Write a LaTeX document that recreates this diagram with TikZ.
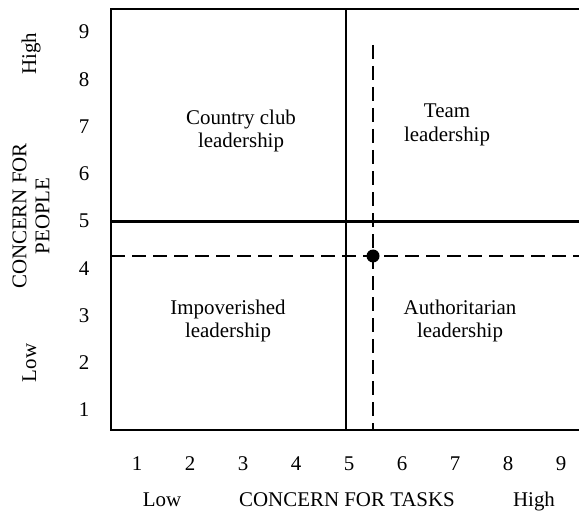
\documentclass[tikz,border=0pt]{standalone}
\usepackage{fontspec}
\setmainfont{Liberation Serif}

\begin{document}
\begin{tikzpicture}[x=0.5bp,y=-0.5bp,font=\fontsize{10.5}{12}\selectfont]
  \tikzstyle{frameline}=[line width=1.45bp,black,line join=miter]
  \tikzstyle{dashline}=[line width=1.15bp,black,dash pattern=on 7bp off 3.5bp]
  \tikzstyle{num}=[inner sep=0pt]
  \tikzstyle{lbl}=[align=center,inner sep=0pt]
  \tikzstyle{axlbl}=[anchor=base,inner sep=0pt]

  \useasboundingbox (0,0) rectangle (579,512);

  % corners of the grid
  \coordinate (tl) at (111,9);
  \coordinate (tr) at (579,9);
  \coordinate (bl) at (111,430);
  \coordinate (br) at (579,430);

  % the middle lines
  \coordinate (ml) at (111,221.5);
  \coordinate (mr) at (579,221.5);
  \coordinate (mt) at (346,9);
  \coordinate (mb) at (346,430);

  % the dashed lines
  \coordinate (dl) at (111,256);
  \coordinate (dr) at (579,256);
  \coordinate (dt) at (373,45);
  \coordinate (db) at (373,430);

  \draw [frameline] (tr) -- (tl) -- (bl) -- (br);
  \draw [frameline] (ml) -- (mr);
  \draw [frameline] (mt) -- (mb);
  \draw [dashline] (dl) -- (dr);
  \draw [dashline] (dt) -- (db);

  % the point
  \node [circle,fill=black,inner sep=0pt,minimum size=6.5bp] (pt) at (373,256) {};

  % the numbers
  \foreach \v in {1,...,9} {
    \node [num] (y\v) at (84,{410-(\v-1)*47.25}) {\v};
    \node [num] (x\v) at ({137+(\v-1)*53},463.5) {\v};
  }

  % the quadrants
  \node [lbl] (club) at (241,131) {Country club\\leadership};
  \node [lbl] (team) at (447,125) {Team\\leadership};
  \node [lbl] (poor) at (228,321) {Impoverished\\leadership};
  \node [lbl] (auth) at (460,321) {Authoritarian\\leadership};

  % axis labels below
  \node [axlbl] (xlow) at (162,506) {Low};
  \node [axlbl] (xname) at (347,506) {CONCERN FOR TASKS};
  \node [axlbl] (xhigh) at (534,506) {High};

  % axis labels on the left
  \node [axlbl,rotate=90] (yhigh) at (36,54) {High};
  \node [axlbl,rotate=90] (ylow) at (36,363) {Low};
  \node [lbl,rotate=90,font=\fontsize{10.5}{11.5}\selectfont] (yname) at (31,216) {CONCERN FOR\\PEOPLE};
\end{tikzpicture}
\end{document}
